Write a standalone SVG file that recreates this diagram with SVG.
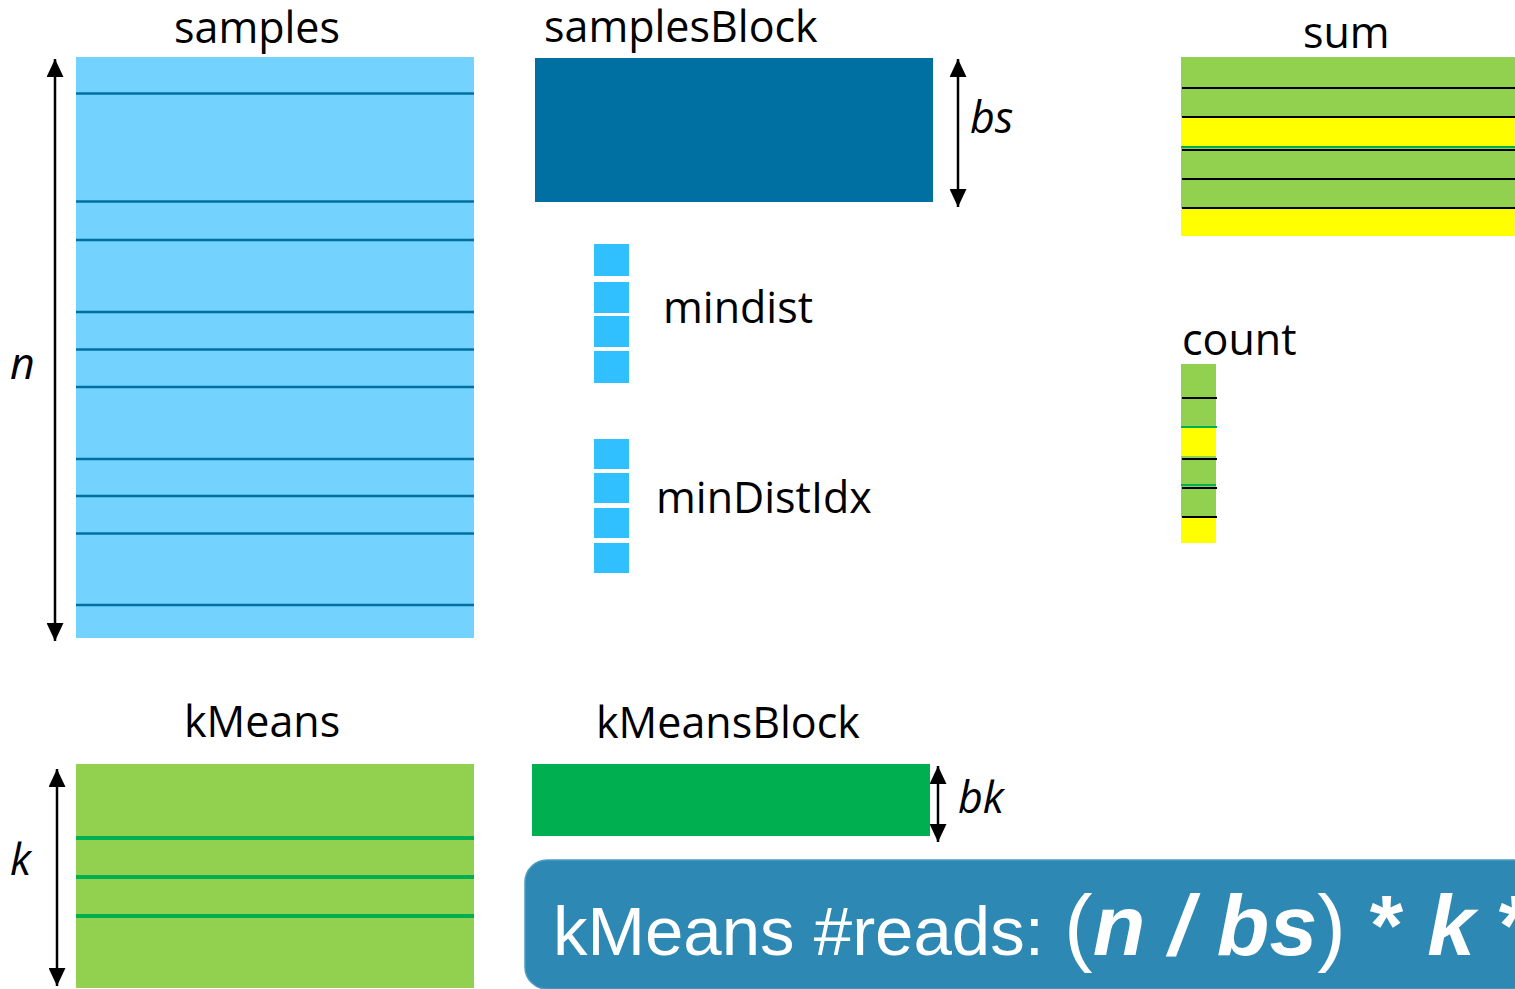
<svg xmlns="http://www.w3.org/2000/svg" width="1515" height="989" viewBox="0 0 1515 989">
  <style>
    .lbl { font-family: "Open Sans", "Liberation Sans", sans-serif; font-size: 43px; fill: #000; }
    .dim { font-family: "Open Sans", "Liberation Sans", sans-serif; font-size: 43px; font-style: italic; fill: #000; }
    .dimline { stroke: #000; stroke-width: 2.5; fill: none; marker-start: url(#tip); marker-end: url(#tip); }
    .sline { stroke: #0070A0; stroke-width: 2.5; }
    .kline { stroke: #00B050; stroke-width: 4; }
    .bline { stroke: #000; stroke-width: 2; }
    .gline { stroke: #00B050; stroke-width: 2; }
    .cell { fill: #31C0FF; }
    .green { fill: #92D050; }
    .yellow { fill: #FFFF00; }
    .formula { font-family: "Liberation Sans", Arial, sans-serif; fill: #fff; }
  </style>
  <defs>
    <marker id="tip" viewBox="0 0 18 17" refX="18" refY="8.5" markerWidth="18" markerHeight="17" markerUnits="userSpaceOnUse" orient="auto-start-reverse">
      <path d="M0,0 L18,8.5 L0,17 z" fill="#000"/>
    </marker>
  </defs>

  <rect width="1515" height="989" fill="#fff"/>

  <!-- samples matrix -->
  <g id="samples">
    <text class="lbl" x="174" y="43">samples</text>
    <rect x="76" y="57" width="398" height="581" fill="#73D2FE"/>
    <line class="sline" x1="76" y1="93.5" x2="474" y2="93.5" stroke-width="3"/>
    <line class="sline" x1="76" y1="201.5" x2="474" y2="201.5" stroke-width="4.5"/>
    <line class="sline" x1="76" y1="240" x2="474" y2="240"/>
    <line class="sline" x1="76" y1="312" x2="474" y2="312"/>
    <line class="sline" x1="76" y1="349.5" x2="474" y2="349.5" stroke-width="3"/>
    <line class="sline" x1="76" y1="387" x2="474" y2="387"/>
    <line class="sline" x1="76" y1="459" x2="474" y2="459"/>
    <line class="sline" x1="76" y1="496" x2="474" y2="496"/>
    <line class="sline" x1="76" y1="533.5" x2="474" y2="533.5" stroke-width="3"/>
    <line class="sline" x1="76" y1="605" x2="474" y2="605" stroke-width="3"/>
    <text class="dim" x="10" y="379">n</text>
  </g>

  <!-- samplesBlock -->
  <g id="samplesBlock">
    <text class="lbl" x="544" y="42">samplesBlock</text>
    <rect x="535" y="58" width="398" height="144" fill="#0070A2"/>
    <text class="dim" x="970" y="133">bs</text>
  </g>

  <!-- mindist -->
  <g id="mindist">
    <rect class="cell" x="594" y="244" width="35" height="32"/>
    <rect class="cell" x="594" y="282" width="35" height="31"/>
    <rect class="cell" x="594" y="316" width="35" height="31"/>
    <rect class="cell" x="594" y="351" width="35" height="32"/>
    <text class="lbl" x="663" y="323">mindist</text>
  </g>

  <!-- minDistIdx -->
  <g id="minDistIdx">
    <rect class="cell" x="594" y="439" width="35" height="30"/>
    <rect class="cell" x="594" y="473" width="35" height="30"/>
    <rect class="cell" x="594" y="508" width="35" height="30"/>
    <rect class="cell" x="594" y="543" width="35" height="30"/>
    <text class="lbl" x="656" y="513">minDistIdx</text>
  </g>

  <!-- sum -->
  <g id="sum">
    <text class="lbl" x="1303" y="48">sum</text>
    <rect class="green" x="1181" y="57" width="334" height="179"/>
    <rect class="yellow" x="1181" y="117" width="334" height="30"/>
    <rect class="yellow" x="1181" y="208" width="334" height="28"/>
    <line class="bline" x1="1182" y1="88" x2="1515" y2="88"/>
    <line class="bline" x1="1182" y1="117" x2="1515" y2="117"/>
    <line class="gline" x1="1181" y1="147" x2="1515" y2="147"/>
    <line class="bline" x1="1182" y1="150" x2="1515" y2="150"/>
    <line class="bline" x1="1182" y1="179" x2="1515" y2="179"/>
    <line class="bline" x1="1182" y1="208" x2="1515" y2="208"/>
  </g>

  <!-- count -->
  <g id="count">
    <text class="lbl" x="1182" y="355">count</text>
    <rect class="green" x="1181" y="364" width="35" height="179"/>
    <rect class="yellow" x="1181" y="427" width="35" height="29"/>
    <rect class="yellow" x="1181" y="517" width="35" height="26"/>
    <line class="bline" x1="1182" y1="398" x2="1217" y2="398"/>
    <line class="gline" x1="1181" y1="427" x2="1217" y2="427"/>
    <line class="bline" x1="1182" y1="459" x2="1217" y2="459"/>
    <line class="gline" x1="1181" y1="485" x2="1216" y2="485"/>
    <line class="bline" x1="1182" y1="488" x2="1217" y2="488"/>
    <line class="bline" x1="1182" y1="517" x2="1217" y2="517"/>
  </g>

  <!-- kMeans matrix -->
  <g id="kMeans">
    <text class="lbl" x="184" y="737">kMeans</text>
    <rect class="green" x="76" y="764" width="398" height="224"/>
    <line class="kline" x1="76" y1="838" x2="474" y2="838"/>
    <line class="kline" x1="76" y1="877" x2="474" y2="877" stroke-width="3"/>
    <line class="kline" x1="76" y1="916" x2="474" y2="916"/>
    <text class="dim" x="10" y="875">k</text>
  </g>

  <!-- kMeansBlock -->
  <g id="kMeansBlock">
    <text class="lbl" x="596" y="738">kMeansBlock</text>
    <rect x="532" y="764" width="398" height="72" fill="#00B050"/>
    <text class="dim" x="958" y="813">bk</text>
  </g>

  <!-- read-count callout -->
  <g id="reads">
    <rect x="525" y="860" width="1030" height="129" rx="22" ry="22" fill="#2D89B3" stroke="#4A9CC2" stroke-width="1.5"/>
    <text class="formula" y="955">
      <tspan x="553" font-size="69">kMeans #reads: </tspan><tspan x="1064" font-size="86">(</tspan><tspan font-size="86" font-weight="bold" font-style="italic">n / bs</tspan><tspan font-size="86">)</tspan><tspan font-size="86" font-weight="bold"> * </tspan><tspan font-size="86" font-weight="bold" font-style="italic">k</tspan><tspan font-size="86" font-weight="bold"> *</tspan>
    </text>
  </g>

  <!-- dimension arrows -->
  <g id="connectors">
    <line class="dimline" x1="55" y1="59" x2="55" y2="641"/>
    <line class="dimline" x1="958" y1="59" x2="958" y2="207"/>
    <line class="dimline" x1="57" y1="769" x2="57" y2="986"/>
    <line class="dimline" x1="938" y1="766" x2="938" y2="842"/>
  </g>
</svg>
